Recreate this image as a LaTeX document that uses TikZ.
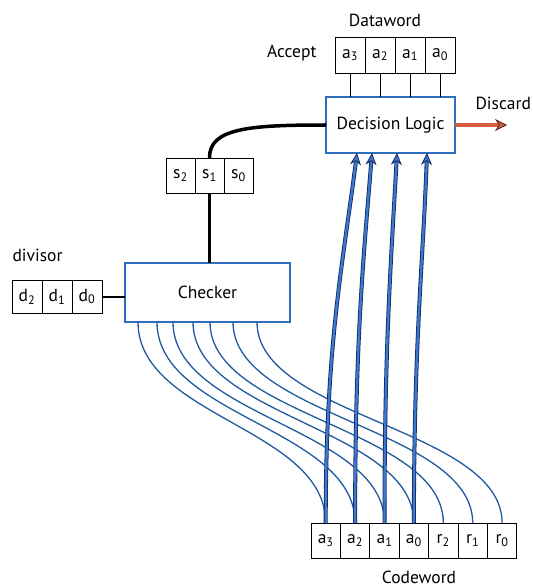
\documentclass[tikz,border=0pt]{standalone}
\usepackage{fontspec}
\setmainfont{PT Sans}
\usetikzlibrary{positioning,arrows.meta}
\definecolor{wireblue}{RGB}{30,90,160}
\definecolor{boxblue}{RGB}{45,110,190}
\definecolor{feedblue}{RGB}{60,120,210}
\definecolor{darkfeed}{RGB}{20,40,90}
\definecolor{discardred}{RGB}{215,95,60}
\definecolor{discarddark}{RGB}{90,40,30}
\begin{document}
\begin{tikzpicture}[x=1pt, y=-1pt, every node/.style={font=\fontsize{17.5}{19}\selectfont},
    cell/.style={draw, line width=0.8pt, minimum width=29.5pt, minimum height=34pt, inner sep=0pt, outer sep=0pt},
    unit/.style={draw=boxblue, line width=1.4pt, fill=white, inner sep=0pt, outer sep=0pt},
    wire/.style={wireblue, line width=1.3pt},
    bus/.style={line width=3.5pt, black},
    feed/.style={draw=darkfeed, double=feedblue, line width=0.8pt, double distance=2.4pt,
        -{Stealth[length=12pt, width=11pt, fill=feedblue]}},
    reject/.style={draw=discarddark, double=discardred, line width=0.8pt, double distance=3.2pt,
        -{Stealth[length=12pt, width=12pt, fill=discardred]}}]
    \useasboundingbox (0,0) rectangle (532,588);
    % Blocks
    \node[unit, minimum width=129pt, minimum height=56pt] (dl) at (390.5,125) {Decision Logic};
    \node[unit, minimum width=165pt, minimum height=59pt] (chk) at (207.5,292.5) {Checker};
    % Registers
    \foreach \i/\t in {0/3, 1/2, 2/1, 3/0}
        \node[cell, minimum width=30pt, minimum height=36pt] (dw\i) at (350+30*\i,55) {a\textsubscript{\t}};
    \foreach \i/\t in {0/2, 1/1, 2/0}
        \node[cell, minimum width=29pt, minimum height=35pt] (s\i) at (180.5+29*\i,175.5) {s\textsubscript{\t}};
    \foreach \i/\t in {0/2, 1/1, 2/0}
        \node[cell, minimum width=30pt, minimum height=33pt] (d\i) at (27+30*\i,296.5) {d\textsubscript{\t}};
    \foreach \i/\t in {0/a\textsubscript{3}, 1/a\textsubscript{2}, 2/a\textsubscript{1}, 3/a\textsubscript{0},
                       4/r\textsubscript{2}, 5/r\textsubscript{1}, 6/r\textsubscript{0}}
        \node[cell, minimum width=29.4pt, minimum height=35pt] (cw\i) at (325.7+29.4*\i,540.5) {\t};
    % Labels
    \node (dwlbl) at (385,20) {Dataword};
    \node[anchor=east] (acc) at (320,53) {Accept};
    \node[anchor=west] (dclbl) at (472,103) {Discard};
    \node[anchor=west] (dvlbl) at (9,255) {divisor};
    \node (cwlbl) at (419,577) {Codeword};
    % Dataword to decision logic
    \foreach \i in {0,...,3}
        \draw[line width=0.8pt] (dw\i.south) -- (dw\i.south |- dl.north);
    % Syndrome bus
    \draw[bus] (dl.west) .. controls (250,125) and (209,128) .. (s1.north);
    \draw[bus] (s1.south) -- (s1.south |- chk.north);
    \draw[line width=2pt] (d2.east) -- (chk.west |- d2.east);
    % Codeword to checker
    \foreach \i/\dx in {0/13, 1/32, 2/48, 3/68, 4/85, 5/108, 6/132}
        \draw[wire] ([xshift=\dx pt]chk.south west) .. controls +(0,95) and +(0,-95) .. (cw\i.north);
    % Codeword to decision logic
    \foreach \i/\dx/\ang in {0/31/14, 1/46/9, 2/71/6, 3/101/4}
        \draw[feed] (cw\i.north) .. controls +(0,-180) and +(-\ang,110) .. ([xshift=\dx pt]dl.south west);
    % Discard
    \coordinate (drop) at (507,125);
    \draw[reject] (dl.east) -- (drop);
\end{tikzpicture}
\end{document}
